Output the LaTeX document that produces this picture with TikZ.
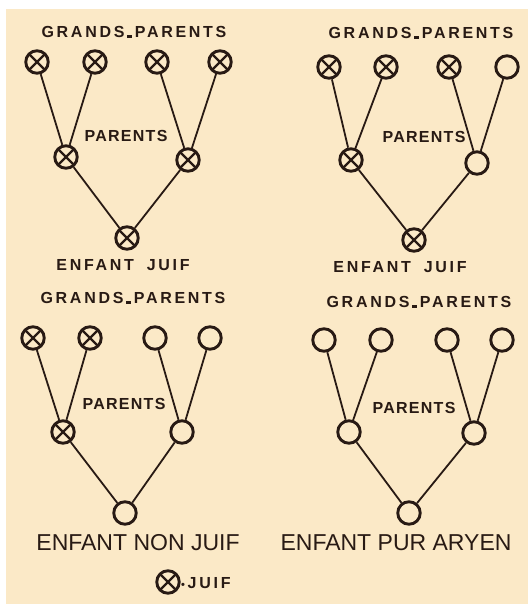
\documentclass[tikz,border=0pt]{standalone}
\usepackage{fontspec}
\newfontfamily\hand[LetterSpace=17]{Liberation Sans}
\newfontfamily\handserre[LetterSpace=8]{Liberation Sans}
\newfontfamily\imprime{Liberation Sans}
\definecolor{papier}{RGB}{251,233,199}
\definecolor{encre}{RGB}{40,26,20}
\newcommand\trait{\,\rule{5pt}{2.5pt}\,}

\begin{document}
\begin{tikzpicture}[
  x=1pt, y=-1pt,
  aryen/.style ={circle, draw=encre, line width=2.9pt, minimum size=22.5pt, inner sep=0pt},
  juif/.style  ={aryen, path picture={
                   \draw[encre, line width=2.4pt]
                     (path picture bounding box.north west) -- (path picture bounding box.south east)
                     (path picture bounding box.north east) -- (path picture bounding box.south west);}},
  lien/.style  ={draw=encre, line width=1.8pt},
  titre/.style ={text=encre, font=\hand\bfseries\fontsize{16}{16}\selectfont, inner sep=0pt},
  milieu/.style={titre, font=\handserre\bfseries\fontsize{16}{16}\selectfont},
  legende/.style={text=encre, font=\imprime\fontsize{23}{24}\selectfont, inner sep=0pt},
]
  \useasboundingbox (0,0) rectangle (528,604);
  \fill[white] (0,0) rectangle (528,604);
  \fill[papier] (6,9) rectangle (528,604);

  % enfant juif (4 grands-parents juifs)
  \node[titre]  (t-a)  at (134,32)  {GRANDS\trait PARENTS};
  \node[juif]   (g-a1) at (37,62)   {};
  \node[juif]   (g-a2) at (95,62)   {};
  \node[juif]   (g-a3) at (157,62)  {};
  \node[juif]   (g-a4) at (220,62)  {};
  \node[milieu] (p-a)  at (126,136) {PARENTS};
  \node[juif]   (m-a1) at (66,157)  {};
  \node[juif]   (m-a2) at (188,160) {};
  \node[juif]   (e-a)  at (127,238) {};
  \node[titre]  (n-a)  at (123,265) {ENFANT\hspace{0.8em}JUIF};
  \draw[lien] (g-a1) -- (m-a1) (g-a2) -- (m-a1) (g-a3) -- (m-a2) (g-a4) -- (m-a2);
  \draw[lien] (m-a1) -- (e-a) (m-a2) -- (e-a);

  % enfant juif (3 grands-parents juifs)
  \node[titre]  (t-b)  at (421,33)  {GRANDS\trait PARENTS};
  \node[juif]   (g-b1) at (329,67)  {};
  \node[juif]   (g-b2) at (386,67)  {};
  \node[juif]   (g-b3) at (449,67)  {};
  \node[aryen]  (g-b4) at (507,67)  {};
  \node[milieu] (p-b)  at (424,137) {PARENTS};
  \node[juif]   (m-b1) at (351,160) {};
  \node[aryen]  (m-b2) at (477,163) {};
  \node[juif]   (e-b)  at (414,240) {};
  \node[titre]  (n-b)  at (400,267) {ENFANT\hspace{0.8em}JUIF};
  \draw[lien] (g-b1) -- (m-b1) (g-b2) -- (m-b1) (g-b3) -- (m-b2) (g-b4) -- (m-b2);
  \draw[lien] (m-b1) -- (e-b) (m-b2) -- (e-b);

  % enfant non juif (2 grands-parents juifs)
  \node[titre]  (t-c)  at (133,298) {GRANDS\trait PARENTS};
  \node[juif]   (g-c1) at (33,338)  {};
  \node[juif]   (g-c2) at (90,338)  {};
  \node[aryen]  (g-c3) at (155,338) {};
  \node[aryen]  (g-c4) at (210,338) {};
  \node[milieu] (p-c)  at (124,404) {PARENTS};
  \node[juif]   (m-c1) at (63,432)  {};
  \node[aryen]  (m-c2) at (182,432) {};
  \node[aryen]  (e-c)  at (125,513) {};
  \node[legende] (n-c) at (138,543) {ENFANT NON JUIF};
  \draw[lien] (g-c1) -- (m-c1) (g-c2) -- (m-c1) (g-c3) -- (m-c2) (g-c4) -- (m-c2);
  \draw[lien] (m-c1) -- (e-c) (m-c2) -- (e-c);

  % enfant pur aryen
  \node[titre]  (t-d)  at (419,302) {GRANDS\trait PARENTS};
  \node[aryen]  (g-d1) at (324,340) {};
  \node[aryen]  (g-d2) at (381,340) {};
  \node[aryen]  (g-d3) at (447,340) {};
  \node[aryen]  (g-d4) at (502,340) {};
  \node[milieu] (p-d)  at (414,408) {PARENTS};
  \node[aryen]  (m-d1) at (349,432) {};
  \node[aryen]  (m-d2) at (474,433) {};
  \node[aryen]  (e-d)  at (409,513) {};
  \node[legende] (n-d) at (396,543) {ENFANT PUR ARYEN};
  \draw[lien] (g-d1) -- (m-d1) (g-d2) -- (m-d1) (g-d3) -- (m-d2) (g-d4) -- (m-d2);
  \draw[lien] (m-d1) -- (e-d) (m-d2) -- (e-d);

  % legende
  \node[juif]  (l-j) at (168,582) {};
  \node[titre, anchor=west] (l-t) at (181,583) {{\fontsize{11}{11}\selectfont\textbullet}\,JUIF};
\end{tikzpicture}
\end{document}
